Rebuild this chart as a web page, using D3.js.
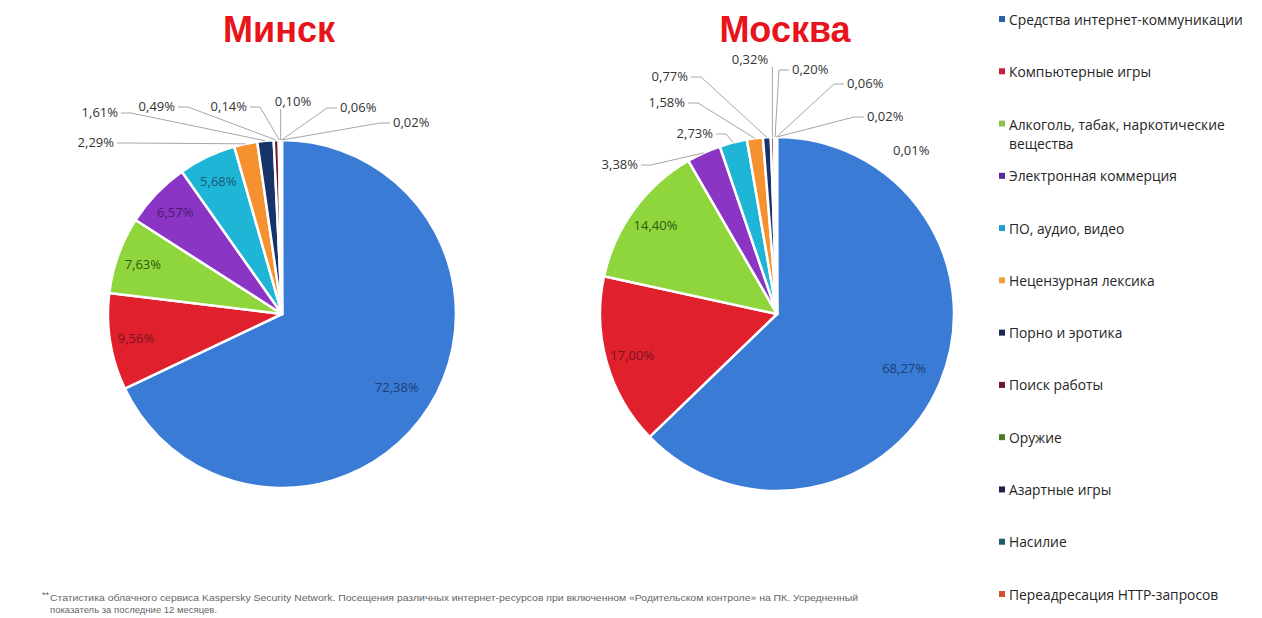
<!DOCTYPE html>
<html><head><meta charset="utf-8">
<script src="https://cdn.jsdelivr.net/npm/d3@7/dist/d3.min.js"></script>
<style>body{margin:0;background:#fff}svg{display:block}</style>
</head><body>
<svg id="c" width="1262" height="618"></svg>
<script>
const categories = ["Средства интернет-коммуникации","Компьютерные игры","Алкоголь, табак, наркотические вещества","Электронная коммерция","ПО, аудио, видео","Нецензурная лексика","Порно и эротика","Поиск работы","Оружие","Азартные игры","Насилие","Переадресация HTTP-запросов"];
const minskValues = [72.38, 9.56, 7.63, 6.57, 5.68, 2.29, 1.61, 0.49, 0.14, 0.10, 0.06, 0.02];
const moscowValues = [68.27, 17.00, 14.40, 3.38, 2.73, 1.58, 0.77, 0.32, 0.20, 0.06, 0.02, 0.01];
const cities = ["Минск", "Москва"];

const sliceColors = ["#3a7bd5","#e0202c","#8ed63c","#8b35c4","#1fb5d6","#f5922f","#16336a","#6b1325","#3f7a22","#2b1b5e","#1c5f6c","#e0552a"];
const labelColors = ["#1c3f75","#7a1422","#2c5a12","#4a1a6e","#1b5a78"];
const legendColors = ["#2d5ea8","#c0203a","#8bc34a","#5a2a9a","#1f9fd0","#f0a040","#1a2a50","#6a1a2a","#4a7a2a","#2a1a4a","#1a5a6a","#d05030"];

// label layout (annotation placement, offsets from pie centre)
const minskOutside = [[5,-168,-172,"end"],[6,-164,-202,"end"],[7,-107,-208,"end"],[8,-35,-208,"end"],[9,11,-213,"middle"],[10,58,-207,"start"],[11,111,-192,"start"]];
const moscowOutside = [[3,-139,-150,"end"],[4,-64,-181,"end"],[5,-92,-212,"end"],[6,-89,-238,"end"],[7,-27,-255,"middle"],[8,15,-245,"start"],[9,70,-231,"start"],[10,90,-198,"start"],[11,116,-164,"none"]];

const svg = d3.select("#c");
const fmt = v => d3.format(".2f")(v).replace(".", ",") + "%";
const FONT = "'Open Sans', 'Liberation Sans', sans-serif";

function drawPie(values, cx, cy, r, title, titleX, outside) {
  const g = svg.append("g").attr("transform", `translate(${cx},${cy})`);
  const pie = d3.pie().sort(null).value(d => d).startAngle(0).endAngle(2 * Math.PI);
  const arcs = pie(values);
  const arc = d3.arc().innerRadius(0).outerRadius(r);
  g.selectAll("path.slice").data(arcs).join("path")
    .attr("class", "slice")
    .attr("d", arc)
    .attr("fill", (d, i) => sliceColors[i])
    .attr("stroke", "#fff").attr("stroke-width", 2.5).attr("stroke-linejoin", "round");

  // inside labels
  const inner = arcs.slice(0, outside[0][0]);
  g.selectAll("text.in").data(inner).join("text")
    .attr("class", "in")
    .attr("transform", (d, i) => {
      const a = (d.startAngle + d.endAngle) / 2;
      const rr = r * (i === 0 ? 0.78 : 0.85);
      return `translate(${rr * Math.sin(a)},${-rr * Math.cos(a)})`;
    })
    .attr("text-anchor", "middle").attr("dominant-baseline", "central")
    .attr("font-family", FONT).attr("font-size", 13)
    .attr("fill", (d, i) => labelColors[i])
    .text(d => fmt(d.data));

  // outside labels + leader lines
  outside.forEach(([idx, dx, dy, anchor]) => {
    const d = arcs[idx];
    const a = (d.startAngle + d.endAngle) / 2;
    const px = r * Math.sin(a), py = -r * Math.cos(a);
    g.append("text")
      .attr("x", dx).attr("y", dy)
      .attr("text-anchor", anchor === "none" ? "start" : anchor)
      .attr("dominant-baseline", "central")
      .attr("font-family", FONT).attr("font-size", 13).attr("fill", "#333")
      .text(fmt(d.data));
    if (anchor === "none") return;
    let pts;
    if (anchor === "middle") {
      pts = [[px, dy + 8], [px, py]];
    } else {
      const sx = anchor === "end" ? dx + 3 : dx - 3;
      const ex = anchor === "end" ? sx + 10 : sx - 10;
      pts = [[sx, dy + 1], [ex, dy + 1], [px, py]];
    }
    g.append("path").attr("d", d3.line()(pts))
      .attr("fill", "none").attr("stroke", "#a6a6a6").attr("stroke-width", 1);
  });

  svg.append("text").attr("x", titleX).attr("y", 42)
    .attr("text-anchor", "middle")
    .attr("font-family", "'Liberation Sans', Arial, sans-serif")
    .attr("font-weight", "bold").attr("font-size", 36).attr("fill", "#e8141c")
    .text(title);
}

drawPie(minskValues, 282, 314, 174, cities[0], 279, minskOutside);
drawPie(moscowValues, 777, 314, 177, cities[1], 785, moscowOutside);

// legend
const ly = d3.scalePoint().domain(categories).range([19, 594]);
const lg = svg.append("g");
categories.forEach((c, i) => {
  const y = ly(c);
  lg.append("rect").attr("x", 999).attr("y", y - 3).attr("width", 6).attr("height", 6).attr("fill", legendColors[i]);
  const t = lg.append("text").attr("x", 1009).attr("y", y)
    .attr("dominant-baseline", "central")
    .attr("font-family", FONT).attr("font-size", 13.8).attr("fill", "#262626");
  if (i === 2) {
    t.append("tspan").attr("x", 1009).text("Алкоголь, табак, наркотические");
    t.append("tspan").attr("x", 1009).attr("dy", 19).text("вещества");
  } else t.text(c);
});

// footnote
svg.append("text").attr("x", 42).attr("y", 598).attr("font-family", "'Liberation Sans Narrow','Liberation Sans',sans-serif")
  .attr("font-size", 9).attr("fill", "#666").text("**");
svg.append("text").attr("x", 50).attr("y", 601)
  .attr("font-family", "'Liberation Sans Narrow','Liberation Sans',sans-serif")
  .attr("font-size", 9.5).attr("fill", "#666")
  .attr("textLength", 808).attr("lengthAdjust", "spacingAndGlyphs")
  .text("Статистика облачного сервиса Kaspersky Security Network. Посещения различных интернет-ресурсов при включенном «Родительском контроле» на ПК. Усредненный");
svg.append("text").attr("x", 50).attr("y", 613)
  .attr("font-family", "'Liberation Sans Narrow','Liberation Sans',sans-serif")
  .attr("font-size", 9.5).attr("fill", "#666")
  .text("показатель за последние 12 месяцев.");
</script>
</body></html>
